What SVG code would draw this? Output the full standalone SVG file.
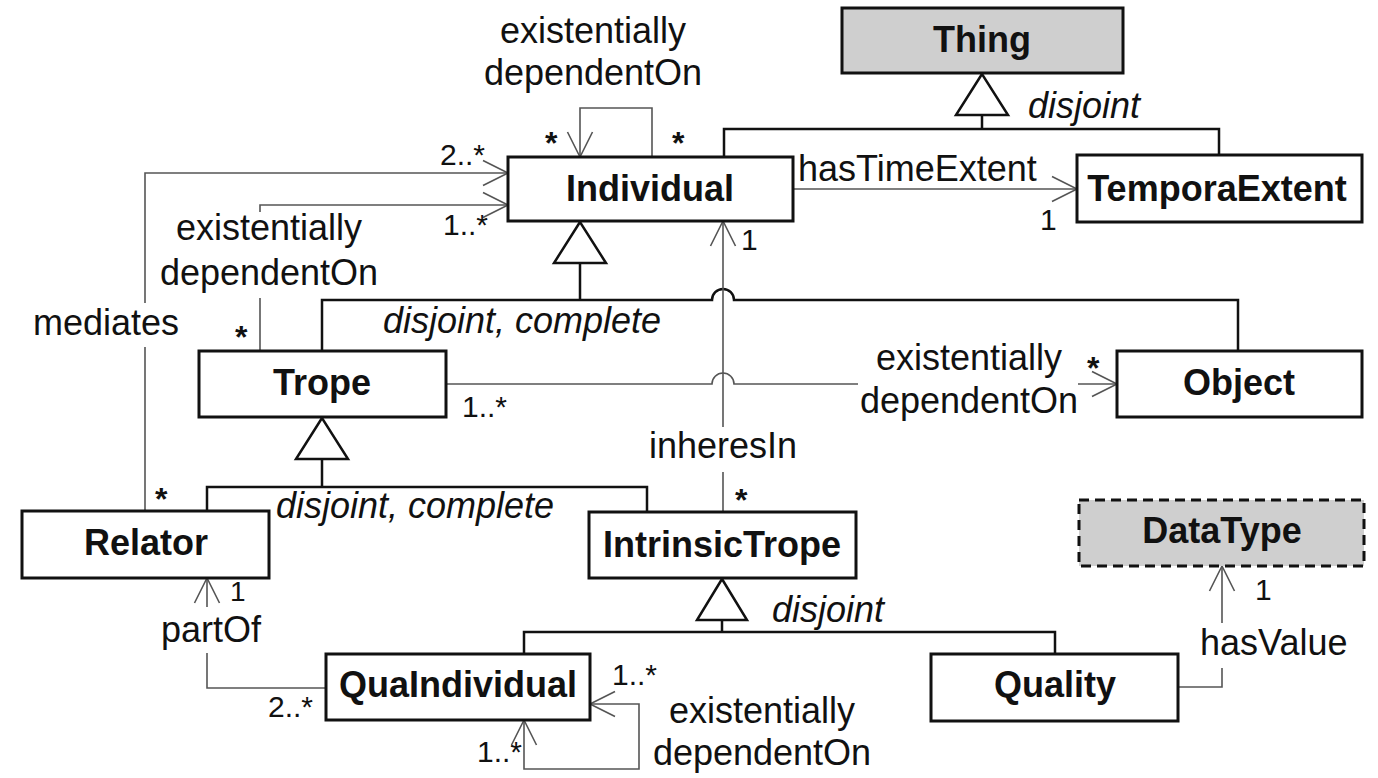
<svg xmlns="http://www.w3.org/2000/svg" width="1378" height="778" viewBox="0 0 1378 778">
<style>
text{font-family:"Liberation Sans",Arial,sans-serif;font-size:36px;fill:#111}
.b{font-weight:bold;text-anchor:middle}
.m{text-anchor:middle}
.i{font-style:italic}
.s{font-size:30px}
.st{font-size:32px;font-weight:bold}
.box{fill:#fff;stroke:#111;stroke-width:3}
.gray{fill:#cfcfcf}
.dash{stroke-dasharray:10 6}
.gen{fill:none;stroke:#111;stroke-width:2.5}
.tri{fill:#fff;stroke:#111;stroke-width:2.5}
.as{fill:none;stroke:#555;stroke-width:1.6}
</style>
<defs>
<marker id="open" viewBox="0 0 28 28" refX="26" refY="14" markerWidth="28" markerHeight="28" markerUnits="userSpaceOnUse" orient="auto-start-reverse">
<path d="M1,1.5 L26,14 L1,26.5" fill="none" stroke="#555" stroke-width="1.6"/>
</marker>
</defs>
<rect width="1378" height="778" fill="#fff"/>

<g id="connectors">
<!-- generalizations -->
<path class="gen" d="M724,157 V129 H1219 V155 M982,129 V115"/>
<polygon class="tri" points="982,74 956,115 1008,115"/>
<path class="gen" d="M322,351 V300 H712 A11,11 0 0 1 734,300 H1238 V351 M580,300 V263"/>
<polygon class="tri" points="580,222 554,263 606,263"/>
<path class="gen" d="M207,511 V487 H647 V512 M322,487 V459"/>
<polygon class="tri" points="322,418 296,459 348,459"/>
<path class="gen" d="M524,654 V632 H1055 V654 M722,632 V620"/>
<polygon class="tri" points="722,579 697,620 747,620"/>

<!-- associations -->
<path class="as" d="M652,157 V108 H580 V157" marker-end="url(#open)"/>
<path class="as" d="M145,511 V347 M145,303 V173 H508" marker-end="url(#open)"/>
<path class="as" d="M260,351 V298 M260,212 V205 H508" marker-end="url(#open)"/>
<path class="as" d="M793,189 H1077" marker-end="url(#open)"/>
<path class="as" d="M446,384 H712 A11,11 0 0 1 734,384 H858 M1078,384 H1117" marker-end="url(#open)"/>
<path class="as" d="M723,512 V472 M723,427 V221" marker-end="url(#open)"/>
<path class="as" d="M325,688 H207 V653 M207,607 V578" marker-end="url(#open)"/>
<path class="as" d="M524,720 V769 H639 V704 H590" marker-start="url(#open)" marker-end="url(#open)"/>
<path class="as" d="M1178,687 H1222 V668 M1222,623 V566" marker-end="url(#open)"/>

<!-- labels -->
<text class="m" x="593" y="43">existentially</text>
<text class="m" x="593" y="85">dependentOn</text>
<text class="st" x="545" y="154">*</text>
<text class="st" x="672" y="154">*</text>
<text class="s" x="440" y="165">2..*</text>
<text class="s" x="443" y="235">1..*</text>
<text x="798" y="181">hasTimeExtent</text>
<text class="s" x="1040" y="230">1</text>
<text class="i" x="1028" y="118">disjoint</text>
<text x="33" y="335">mediates</text>
<text class="m" x="269" y="240">existentially</text>
<text class="m" x="269" y="285">dependentOn</text>
<text class="st" x="235" y="348">*</text>
<text class="i" x="383" y="333">disjoint, complete</text>
<text class="s" x="462" y="417">1..*</text>
<text class="m" x="969" y="370">existentially</text>
<text class="m" x="969" y="413">dependentOn</text>
<text class="st" x="1087" y="379">*</text>
<text class="s" x="741" y="250">1</text>
<text class="m" x="723" y="458">inheresIn</text>
<text class="st" x="735" y="511">*</text>
<text class="st" x="155" y="510">*</text>
<text class="i" x="276" y="518">disjoint, complete</text>
<text class="s" x="230" y="601" style="font-size:28px">1</text>
<text class="m" x="211" y="642">partOf</text>
<text class="s" x="268" y="717">2..*</text>
<text class="i" x="772" y="622">disjoint</text>
<text class="s" x="612" y="685">1..*</text>
<text class="s" x="477" y="762">1..*</text>
<text class="m" x="762" y="723">existentially</text>
<text class="m" x="762" y="765">dependentOn</text>
<text x="1200" y="655">hasValue</text>
<text class="s" x="1255" y="600">1</text>
</g>

<g id="thing"><rect class="box gray" x="842" y="8" width="281" height="65"/><text class="b" x="982" y="52">Thing</text></g>
<g id="individual"><rect class="box" x="508" y="157" width="285" height="64"/><text class="b" x="650" y="201">Individual</text></g>
<g id="temporaextent"><rect class="box" x="1077" y="155" width="285" height="67"/><text class="b" x="1217" y="201">TemporaExtent</text></g>
<g id="trope"><rect class="box" x="199" y="351" width="247" height="66"/><text class="b" x="322" y="395">Trope</text></g>
<g id="object"><rect class="box" x="1117" y="351" width="245" height="66"/><text class="b" x="1239" y="395">Object</text></g>
<g id="relator"><rect class="box" x="22" y="511" width="247" height="67"/><text class="b" x="146" y="555">Relator</text></g>
<g id="intrinsictrope"><rect class="box" x="589" y="512" width="267" height="66"/><text class="b" x="722" y="557">IntrinsicTrope</text></g>
<g id="datatype"><rect class="box gray dash" x="1079" y="500" width="285" height="66"/><text class="b" x="1222" y="543">DataType</text></g>
<g id="quaindividual"><rect class="box" x="326" y="654" width="264" height="66"/><text class="b" x="458" y="697">QuaIndividual</text></g>
<g id="quality"><rect class="box" x="931" y="654" width="247" height="67"/><text class="b" x="1055" y="697">Quality</text></g>
</svg>
